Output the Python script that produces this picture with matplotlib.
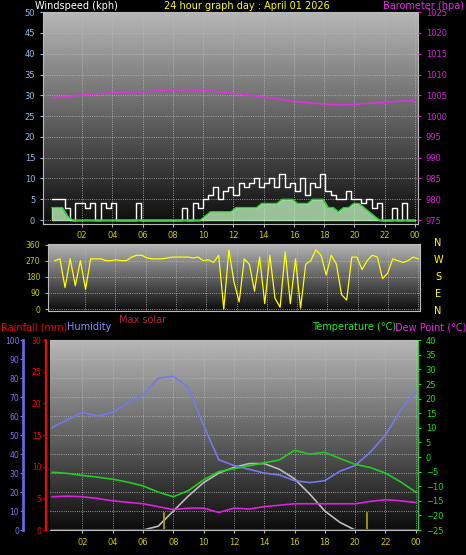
import matplotlib
matplotlib.use("Agg")
import matplotlib.pyplot as plt
import numpy as np

# ---------------- data ----------------
# wind (20-min resolution, 72 values, hours 0..24)
wind_gust = [5,5,5,3,0,4, 4,3,4,0,4,3, 4,0,0,0,0,4, 0,0,0,0,0,0, 0,0,3,0,4,3,
             5,6,8,5,7,8, 6,9,8,9,10,8, 9,10,8,11,8,9, 7,10,6,9,8,11, 7,6,5,5,7,5,
             5,4,5,3,4,0, 0,3,0,4,0,0]
wind_avg = [3,3,3,1,0,0] + [0]*24 + [1,2,2,2,2,2, 3,3,3,3,3,4, 4,4,4,5,5,5, 4,4,4,5,5,5,
            3,3,2,3,3,4, 4,3,2,1,0,0, 0,0,0,0,0,0]
baro_hours = list(range(25))
baro = [1004.4,1004.7,1005.1,1005.4,1005.6,1005.8,1005.8,1006.1,1006.3,1006.3,1006.2,1005.9,
        1005.5,1005.1,1004.6,1004.1,1003.6,1003.2,1002.9,1002.7,1002.8,1003.1,1003.3,1003.6,1003.7]
# wind direction (20-min)
wind_dir = [270,280,120,280,130,270,110,280,280,280,270,270,275,270,270,290,300,300,285,280,280,280,285,290,
            290,290,290,285,290,270,275,260,300,0,330,150,40,280,250,100,290,30,300,60,10,320,30,280,5,250,
            270,330,300,190,300,250,80,50,290,290,220,270,300,290,170,200,280,270,260,270,290,280]
# bottom panel (hourly, 0..24)
hours = list(range(25))
humidity = [54,58,62,60,62,67,71,80,81,75,55,37,34,32,30,29,26,25,26,31,34,41,50,63,73]
temperature = [-5.2,-5.6,-6.3,-6.9,-7.6,-8.6,-9.9,-12,-13.6,-11.5,-7.8,-5,-4,-3,-2,-1,2.3,1,1.6,-0.5,-2.5,-3.6,-5.5,-8.5,-12]
dewpoint = [-13.6,-13.4,-13.6,-14.2,-15,-15.5,-16,-17,-18,-17.5,-17.5,-19,-17.5,-17.8,-17,-16.5,-16,-16,-16,-16,-16,-15.2,-14.6,-15,-15.6]
solar = [0,0,0,0,0,0,0,2,10,18,25,30,33,35,35,32,27,19,10,4,0,0,0,0,0]
rainfall = [0]*25
sun_events = [7.4, 20.8]
xtick_labels = ["02","04","06","08","10","12","14","16","18","20","22","00"]

fig = plt.figure(figsize=(4.66, 5.55), dpi=100, facecolor="black")
fs = 6.0
grad = np.linspace(0.05, 0.72, 256).reshape(-1, 1)

def bg(ax):
    ax.imshow(grad, cmap="gray", aspect="auto", extent=[0, 1, 0, 1], transform=ax.transAxes,
              zorder=0, origin="lower", vmin=0, vmax=1)
    ax.set_facecolor("#333333")
    for s in ax.spines.values():
        s.set_color("#bbbbbb")
    ax.grid(True, color="#bbbbbb", linestyle=":", linewidth=0.6)

xt = list(range(2, 25, 2))
# ---------- panel 1 ----------
ax1 = fig.add_axes([0.092, 0.596, 0.805, 0.382])
bg(ax1)
t72 = np.linspace(0, 24, 72)
ax1.step(t72, wind_gust, where="mid", color="white", lw=1.0, zorder=3)
ax1.fill_between(t72, wind_avg, color="#bbeebb", alpha=0.8, zorder=3)
ax1.plot(t72, wind_avg, color="#22cc22", lw=1.0, zorder=4)
ax1.set_xlim(-0.6, 24.2); ax1.set_ylim(-1, 50)
ax1.set_yticks(range(0, 51, 5))
ax1.set_xticks(xt); ax1.set_xticklabels([])
ax1.tick_params(axis="y", colors="#99bbee", labelsize=fs, length=2)
ax1.tick_params(axis="x", length=2, colors="#bbbbbb")
ax1b = ax1.twinx()
ax1b.plot(baro_hours, baro, color="#dd33dd", lw=1.2, zorder=5)
ax1b.set_ylim(974, 1025)
ax1b.set_yticks(range(975, 1026, 5))
ax1b.tick_params(axis="y", colors="#dd22dd", labelsize=fs, length=2)
for s in ax1b.spines.values(): s.set_visible(False)
fig.text(0.075, 0.99, "Windspeed (kph)", color="white", fontsize=7, va="center")
fig.text(0.53, 0.99, "24 hour graph day : April 01 2026", color="yellow", fontsize=7, va="center", ha="center")
fig.text(0.995, 0.99, "Barometer (hpa)", color="#ee22ee", fontsize=7, va="center", ha="right")
for h, lab in zip(xt, xtick_labels):
    fig.text(0.092 + 0.805 * (h + 0.6) / 24.8, 1 - 236/555, lab, color="#cccc00", fontsize=fs, ha="center", va="center")

# ---------- panel 2 ----------
ax2 = fig.add_axes([0.103, 0.440, 0.798, 0.121])
bg(ax2)
ax2.plot(t72, wind_dir, color="yellow", lw=0.9, zorder=3)
ax2.set_xlim(-0.45, 24.1); ax2.set_ylim(-10, 365)
ax2.set_yticks([0, 90, 180, 270, 360]); ax2.set_xticks(xt); ax2.set_xticklabels([])
ax2.tick_params(axis="y", colors="#cccc00", labelsize=5.5, length=2)
ax2.tick_params(axis="x", length=0)
for i, c in enumerate("NWSEN"):
    fig.text(0.94, 0.563 - i * 0.031, c, color="yellow", fontsize=7, ha="center", va="center")

fig.text(0.003, 1 - 327/555, "Rainfall (mm)", color="red", fontsize=7, va="center")
fig.text(0.143, 1 - 327/555, "Humidity", color="#8888ff", fontsize=7, va="center")
fig.text(0.255, 1 - 320/555, "Max solar", color="#bb2244", fontsize=7, va="center")
fig.text(0.67, 1 - 327/555, "Temperature (°C)", color="#22ee22", fontsize=7, va="center")
fig.text(0.848, 1 - 327/555, "Dew Point (°C)", color="#ee22ee", fontsize=7, va="center")

# ---------- panel 3 ----------
ax3 = fig.add_axes([0.107, 0.045, 0.79, 0.342])
bg(ax3)
ax3.set_xlim(-0.15, 24.15); ax3.set_ylim(0, 100)
ax3.plot(hours, solar, color="#bbbbbb", lw=1.2, zorder=3)
ax3.plot(hours, humidity, color="#7777ee", lw=1.2, zorder=4)
for s in sun_events:
    ax3.plot([s, s], [0, 9], color="#aaaa00", lw=1.2, zorder=3)
ax3.spines["left"].set_position(("outward", 19))
ax3.spines["left"].set_color("#6666dd"); ax3.spines["left"].set_linewidth(2)
ax3.set_yticks(range(0, 101, 10))
ax3.tick_params(axis="y", colors="#7777ee", labelsize=5.5, length=2, pad=1)
ax3.set_xticks(xt); ax3.set_xticklabels(xtick_labels)
ax3.tick_params(axis="x", colors="#cccc00", labelsize=fs, length=2)
axr = ax3.twinx()
axr.plot(hours, rainfall, color="red", lw=2, zorder=5)
axr.set_ylim(0, 30)
axr.yaxis.set_ticks_position("left"); axr.yaxis.set_label_position("left")
axr.spines["left"].set_visible(True); axr.spines["left"].set_color("red"); axr.spines["left"].set_linewidth(1.5)
axr.spines["left"].set_position(("outward", 3))
axr.spines["right"].set_visible(False); axr.spines["top"].set_visible(False); axr.spines["bottom"].set_visible(False)
axr.set_yticks(range(0, 31, 5))
axr.tick_params(axis="y", colors="red", labelsize=5.5, length=2, pad=1)
axt = ax3.twinx()
axt.plot(hours, temperature, color="#22cc22", lw=1.2, zorder=5)
axt.plot(hours, dewpoint, color="#dd22dd", lw=1.2, zorder=5)
axt.set_ylim(-25, 40)
axt.set_yticks(range(-25, 41, 5))
axt.tick_params(axis="y", colors="#22dd22", labelsize=fs, length=2)
for s in ["left", "top", "bottom"]: axt.spines[s].set_visible(False)
axt.spines["right"].set_color("#22cc22")

fig.savefig("out.png", dpi=100, facecolor="black")
